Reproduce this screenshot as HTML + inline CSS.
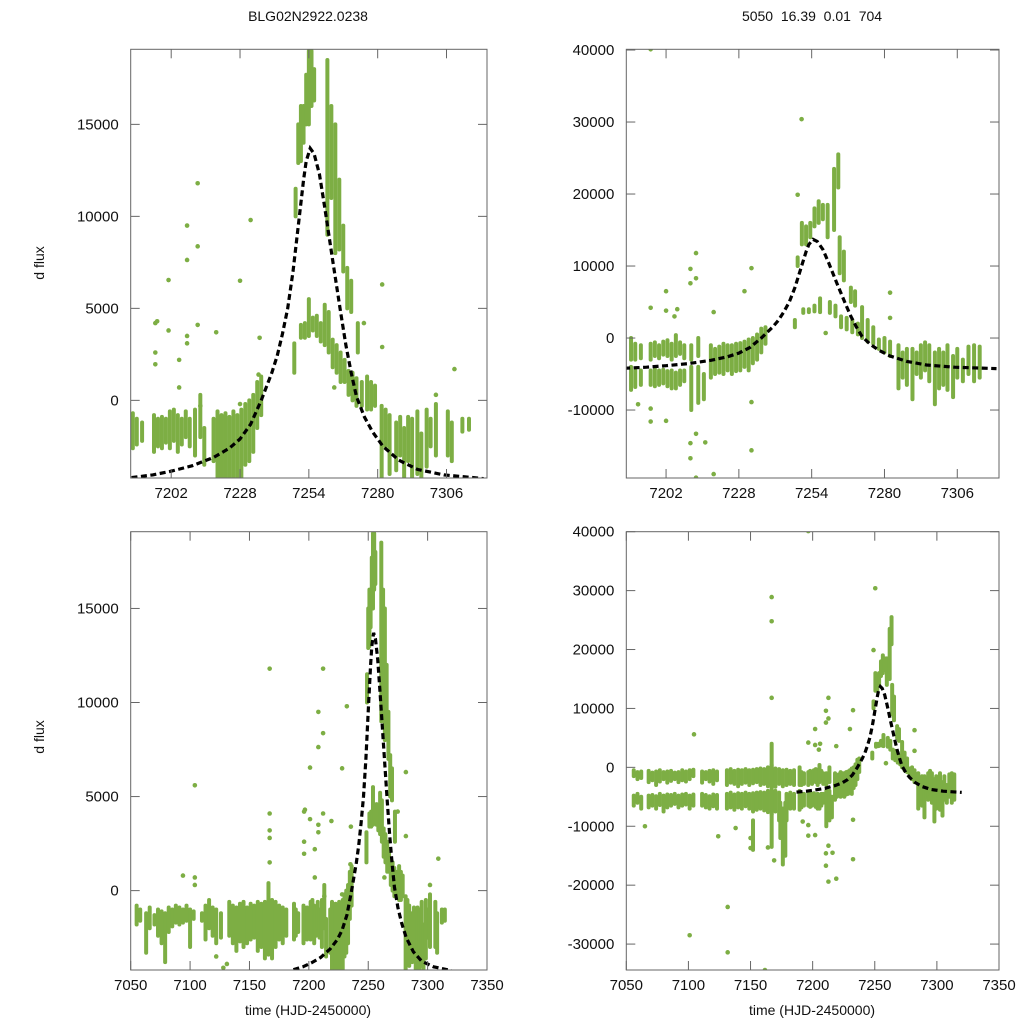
<!DOCTYPE html>
<html><head><meta charset="utf-8"><style>
html,body{margin:0;padding:0;background:#fff}
svg{display:block}
text{font-family:"Liberation Sans",Arial,sans-serif;fill:#111}
</style></head><body>
<svg id="chart" width="1024" height="1024" viewBox="0 0 1024 1024" xmlns="http://www.w3.org/2000/svg">
<text x="308" y="21" font-size="14" text-anchor="middle">BLG02N2922.0238</text>
<text x="812" y="21" font-size="14" text-anchor="middle" xml:space="preserve">5050  16.39  0.01  704</text>
<text x="44" y="263" font-size="14" text-anchor="middle" transform="rotate(-90 44 263)">d flux</text>
<text x="44" y="737" font-size="14" text-anchor="middle" transform="rotate(-90 44 737)">d flux</text>
<text x="308" y="1015" font-size="14" text-anchor="middle">time (HJD-2450000)</text>
<text x="812" y="1015" font-size="14" text-anchor="middle">time (HJD-2450000)</text>
</svg>
<script>
// ---- data: left star (t, lo, hi) streaks and isolated points ----
const leftStreakT=[7055,7058,7063,7066,7070,7073,7076,7079,7082,7085,7088,7091,7094,7097,7100,7103,7110,7113,7116,7119,7122,7126,7133,7136,7139,7142,7145,7148,7151,7154,7157,7160,7163,7166,7169,7172,7175,7178,7181,
7187.5,7189,7191,7195.5,7197,7198.5,7200,7201.5,7203,7204.5,7206,7207.5,7209,7211,7213,7214.5,
7218,7219.5,7221,7222.5,7224,7225.5,7227,7228.5,7230,7231.5,7233,7234.5,7236,
7248.5,7249,7250,7251,7252,7253,7254,7255,7256,
7251,7252.5,7254,7255.5,7257,7258.5,7260,7261.5,
7261,7262.5,7264,7265.5,7267,7268.5,7270,7272.5,
7263,7264.5,7266,7267.5,7269,7270.5,7272,7274,7276,7277.5,7279,
7281.5,7283,7284.5,7287,7288.5,7290,7291.5,7293,7295,7296.5,7298.5,7300,7302,7306.5,7308,7312,7314.5];
const leftStreakLo=[-1800,-1600,-3300,-2000,-1800,-2400,-2800,-3800,-2200,-1900,-1700,-1800,-1700,-1600,-3000,-1500,-1600,-2600,-2000,-2400,-2800,-2500,-2400,-2800,-3200,-2700,-3000,-2800,-2600,-2500,-3200,-3000,-3600,-3400,-3600,-3000,-2600,-2800,-2400,
-2600,-2400,-2200,-2800,-2500,-2600,-2300,-2600,-2200,-2800,-2400,-2000,-2500,-3000,-2000,-3500,
-3300,-4200,-4200,-4200,-4200,-4200,-4200,-4200,-3500,-3300,-2800,-1500,-800,
1500,10000,12900,13000,14000,15000,15000,16000,16300,
3400,3400,3500,3800,3500,3200,3000,2600,
9000,11000,8000,8200,7000,5000,4800,2600,
1800,1500,1000,1000,300,0,-300,-300,-500,-500,-300,
-4200,-2500,-4000,-3800,-3000,-4200,-3300,-4200,-4000,-4200,-3600,-2500,-3000,-3000,-3300,-1700,-1600];
const leftStreakHi=[-800,-1000,-1200,-900,-1300,-1000,-1100,-1200,-900,-1000,-800,-900,-1000,-800,-1000,-1100,-1200,-800,-500,-900,-1000,-1200,-600,-800,-900,-700,-600,-900,-700,-800,-600,-700,-600,400,-500,-600,-800,-900,-1000,
-700,-1000,-1200,-800,-1000,-900,-1000,-600,-500,-800,-1000,-600,-1000,-500,300,-1500,
-1000,-600,-800,-700,-900,-600,-800,-500,-200,0,300,1000,1300,
3100,11500,15000,16000,16000,17700,19000,19000,18000,
4100,4200,5500,4500,4600,4200,5200,4800,
18500,16000,15000,12000,9500,7200,6500,4200,
3300,3000,2600,2200,1600,1500,1200,1000,1300,1000,800,
-300,-500,-800,-1200,-900,-1500,-900,-1000,-600,-1800,-500,-1000,-200,-600,-1200,-1000,-1000];
const leftPointT=[7201,7196,7196,7196,7201,7208,7208,7212,7212,7212,7208,7208,7219,7232,7228,7235.4,7281.7,7281.7,7274.8,7309,7302,7263.6,7104,7167,7167,7167,7167,7167,7196.7,7094,7104,7104,7235,7228,7205,7205,7213,7128,7131,7122];
const leftPointF=[6540,4200,2600,1960,3800,9500,7630,11800,8370,4100,3500,3100,3700,9800,6500,3400,6300,2900,4200,1700,300,700,5600,11800,4100,3200,2800,1500,4300,800,700,300,1400,-200,2200,700,-300,-4100,-3900,-3500];

// ---- data: right star ----
const rightStreakT=[7056,7059,7062,7068,7071,7074,7077,7080,7083,7086,7089,7092,7095,7098,7101,7104,7111,7114,7117,7120,7123,7131,7134,7137,7140,7143,7146,7149,7152,7155,7158,7161,7164,7167,7170,7173,7176,7179,7182,7185,
7056,7059,7062,7068,7071,7074,7077,7080,7083,7086,7089,7092,7095,7098,7101,7104,7111,7114,7117,7120,7123,7131,7134,7137,7140,7143,7146,7149,7152,7155,7158,7161,7164,7167,7170,7173,7176,7179,7182,7185,
7167,7176,7178,7174,7152,
7189.5,7191,7193,7196.5,7198,7199.5,7201,7202.5,7204,7205.5,7207,7208.5,7211,7213.5,
7189.5,7191,7193,7196.5,7198,7199.5,7201,7202.5,7204,7205.5,7207,7208.5,7211,7213.5,7215.5,
7218,7219.5,7221,7222.5,7224,7225.5,7227,7228.5,7230,7231.5,7233,7234.5,7236,7237.5,
7248,7249,7250.5,7252,7253.5,7255,7256.5,7258,7251,7253,7255,7257,7259.7,7260.5,7262,7263.5,7262.5,7264,7265.5,7264.5,7266.5,7268,7269.5,7268.5,7270.5,7272,7274,7276,7278,7280,7282,
7285,7286.5,7288,7290,7291.5,7293,7294.5,7296,7298,7299.5,7301,7302.5,7304.5,7306,7308,7310,7312,7314];
const rightStreakLo=[-1500,-2000,-1800,-2500,-2200,-3000,-2400,-2000,-2600,-2300,-2000,-2500,-2200,-2400,-2000,-1500,-2600,-2000,-2400,-2800,-2200,-3000,-2600,-2800,-3200,-2800,-2600,-3000,-2700,-2500,-3000,-2800,-3200,-3000,-3300,-2800,-3200,-3000,-2800,-3000,
-6500,-6000,-7000,-6800,-6500,-7000,-6400,-7500,-6800,-6500,-6200,-6800,-6500,-6300,-7000,-6500,-6500,-6800,-7000,-6600,-7000,-7000,-6800,-7200,-6800,-7000,-6600,-7000,-7500,-7200,-7000,-7300,-7600,-8000,-7500,-9000,-12000,-9000,-7000,-7000,
-13500,-16500,-15000,-12000,-14000,
-3000,-3000,-2800,-3000,-2500,-2800,-2300,-2500,-3000,-2500,-2200,-2800,-3000,-2500,
-7200,-6800,-6500,-6500,-6700,-6500,-6300,-6700,-7000,-7000,-6500,-6000,-10000,-9000,-8500,
-5500,-5000,-4800,-5000,-4500,-5000,-4600,-4500,-4000,-4500,-3500,-3000,-2000,-800,
1500,10000,13000,13000,14000,15500,16000,16500,3500,3600,3700,3600,14000,3500,15000,20900,3000,9000,8000,1500,1200,5000,4500,800,500,0,-500,-800,-1500,-2000,-2500,
-7000,-5500,-6500,-8500,-5000,-5500,-4500,-6000,-9200,-7000,-6500,-7200,-8200,-5500,-6000,-5000,-6000,-5500];
const rightStreakHi=[-500,-800,-700,-600,-900,-700,-500,-800,-700,-600,-900,-800,-500,-700,-500,-400,-700,-800,-600,-500,-700,-500,-300,-600,-400,-500,-300,-500,-400,-300,-200,-300,0,400,-200,-300,-500,-400,-600,-500,
-4800,-4500,-5000,-4800,-4700,-4900,-4500,-4800,-4600,-4700,-4500,-4800,-4600,-4500,-4800,-4600,-4500,-4700,-4900,-4600,-4700,-4500,-4300,-4600,-4400,-4500,-4300,-4500,-4400,-4300,-4200,-4300,-4000,-4200,-4000,-4300,-7000,-4500,-4300,-4500,
4000,-7000,-6000,-6000,-9000,
0,-800,-1000,-800,-600,-1000,-500,-300,-800,400,-600,-1000,-1000,0,
-4000,-4500,-4500,-4500,-4300,-4500,-4400,-4600,-4500,-4800,-4500,-4500,-4000,-4000,-5000,
-1000,-1500,-1200,-800,-1000,-1000,-800,-700,-500,-200,0,500,1300,1500,
2500,11200,16000,15500,16000,18000,19000,18500,4000,4000,4500,5500,18500,5000,23500,25500,4500,14000,12000,3000,2800,7000,6500,2500,2000,4300,2500,1500,-200,0,-500,
-1000,-2000,-1500,-1500,-2000,-1000,-600,-1000,-2000,-1500,-2000,-1000,-2500,-1500,-3000,-1200,-1000,-1200];
const rightPointT=[7196.5,7250.4,7249,7212.7,7210.7,7210.7,7212.7,7202,7232.5,7230,7196.5,7202,7196.5,7202,7210.7,7210.7,7212.7,7212.7,7219,7232.5,7232.5,7192,7196.5,7104.5,7101,7131.6,7131.6,7161.6,7065,7167,7167,7167,7124,7138,7150,7150,7164,7169,7282,7282,7259,7205,7206,7219,7216];
const rightPointF=[40100,30400,19900,11800,9600,7600,8300,6500,9700,6500,4200,3800,-11600,-11500,-16700,-14600,-19400,-13300,-18900,-15600,-8900,-9200,-9800,5600,-28500,-23700,-31400,-34400,-10000,24800,28900,11800,-11700,-10300,-13700,-12000,-13600,-15800,6300,2800,700,3000,4000,3600,-14500];

// ---- model fit curve samples ----
const fitT=[7187,7195,7202,7210,7218,7224,7228,7232,7236,7240,7242,7244,7246,7248,7250,7252,7253,7254.5,7256,7258,7260,7263,7266,7268,7270,7272,7275,7278,7282,7288,7295,7305,7320];
const fitF=[-4200,-4050,-3850,-3550,-3100,-2600,-2100,-1300,0,1500,2400,3600,5000,7000,9500,12000,13000,13700,13400,12300,10500,7600,4800,3000,1500,200,-900,-1700,-2500,-3250,-3750,-4050,-4250];

// ---- axis tick arrays ----
const xTicksTop=[7202,7228,7254,7280,7306];
const xTicksBottom=[7050,7100,7150,7200,7250,7300,7350];
const yTicksLeft=[0,5000,10000,15000];
const yTicksRightTop=[-10000,0,10000,20000,30000,40000];
const yTicksRightBottom=[-30000,-20000,-10000,0,10000,20000,30000,40000];

const NS="http://www.w3.org/2000/svg";
const svg=document.getElementById('chart');
const GREEN="#7dae44";
function mk(tag,attrs,parent){const e=document.createElementNS(NS,tag);for(const k in attrs)e.setAttribute(k,attrs[k]);(parent||svg).appendChild(e);return e;}

function panel(id,box,xd,yd,xt,yt,sT,sLo,sHi,pT,pF,fitFrom){
  const [x0,y0,x1,y1]=box;
  const X=t=>x0+(t-xd[0])/(xd[1]-xd[0])*(x1-x0);
  const Y=v=>y1-(v-yd[0])/(yd[1]-yd[0])*(y1-y0);
  const g=mk('g',{});
  
  
  const cp=mk('clipPath',{id:id+'-clip'},g);
  mk('rect',{x:x0,y:y0,width:x1-x0,height:y1-y0},cp);
  const dg=mk('g',{'clip-path':'url(#'+id+'-clip)'},g);
  
  
  for(let i=0;i<sT.length;i++){
    const l=mk('line',{x1:X(sT[i]),x2:X(sT[i]),y1:Y(sLo[i]),y2:Y(sHi[i])+0.01,stroke:GREEN,'stroke-width':4.0,'stroke-linecap':'round'},dg);
    
    
  }
  for(let i=0;i<pT.length;i++){
    const c=mk('circle',{cx:X(pT[i]),cy:Y(pF[i]),r:2.3,fill:GREEN},dg);
    
    
  }
  let d='';
  for(let i=0;i<fitT.length;i++){ if(fitT[i]<fitFrom)continue; d+=(d?'L':'M')+X(fitT[i]).toFixed(1)+','+Y(fitF[i]).toFixed(1);}
  const p=mk('path',{d:d,fill:'none',stroke:'#000','stroke-width':3.2,'stroke-dasharray':'6,3.5'},dg);
  
  
  const fr=mk('rect',{x:x0,y:y0,width:x1-x0,height:y1-y0,fill:'none',stroke:'#666','stroke-width':1},g);
  
  
  xt.forEach(t=>{
    const x=X(t);
    mk('line',{x1:x,x2:x,y1:y1,y2:y1-9,stroke:'#666'},g);
    mk('line',{x1:x,x2:x,y1:y0,y2:y0+9,stroke:'#666'},g);
    const tx=mk('text',{x:x,y:y1+20,'font-size':15,'text-anchor':'middle'},g);
    tx.textContent=t;
    
    
  });
  yt.forEach(v=>{
    const y=Y(v);
    mk('line',{x1:x0,x2:x0+9,y1:y,y2:y,stroke:'#666'},g);
    mk('line',{x1:x1,x2:x1-9,y1:y,y2:y,stroke:'#666'},g);
    const tx=mk('text',{x:x0-12,y:y+5,'font-size':15,'text-anchor':'end'},g);
    tx.textContent=v;
    
    
  });
}
panel('top-left',[130.7,49.3,487,478],[7186.7,7321.3],[-4220,19080],xTicksTop,yTicksLeft,leftStreakT,leftStreakLo,leftStreakHi,leftPointT,leftPointF,0);
panel('top-right',[626.3,49.3,999,478],[7187.8,7320.9],[-19440,40100],xTicksTop,yTicksRightTop,rightStreakT,rightStreakLo,rightStreakHi,rightPointT,rightPointF,0);
panel('bottom-left',[130.7,531.7,487,970],[7050,7350],[-4220,19080],xTicksBottom,yTicksLeft,leftStreakT,leftStreakLo,leftStreakHi,leftPointT,leftPointF,7187);
panel('bottom-right',[626.3,531.7,999,970],[7050,7350],[-34400,40000],xTicksBottom,yTicksRightBottom,rightStreakT,rightStreakLo,rightStreakHi,rightPointT,rightPointF,7187);
</script>
</body></html>
